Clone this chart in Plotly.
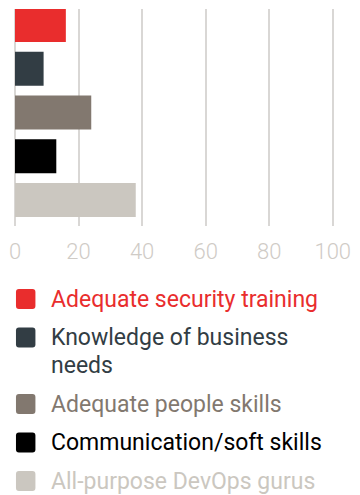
import plotly.graph_objects as go

# Survey results: share of respondents (%) per skill gap
categories = [
    "Adequate security training",
    "Knowledge of business needs",
    "Adequate people skills",
    "Communication/soft skills",
    "All-purpose DevOps gurus",
]
values = [16, 9, 24, 13, 38]
colors = ["#e92d2d", "#323d44", "#82786f", "#000000", "#cbc7c0"]
legend_lines = [
    ["Adequate security training"],
    ["Knowledge of business", "needs"],
    ["Adequate people skills"],
    ["Communication/soft skills"],
    ["All-purpose DevOps gurus"],
]
tick_values = [0, 20, 40, 60, 80, 100]

W, H = 360, 495
ML, MR, MT, MB = 14, 18, 9, 269
PW, PH = W - ML - MR, H - MT - MB

fig = go.Figure(
    go.Bar(
        x=values,
        y=list(range(len(categories))),
        orientation="h",
        marker=dict(color=colors, line=dict(width=0)),
        width=0.78,
        hovertext=categories,
        showlegend=False,
    )
)


def px_x(x):
    return (x - ML) / PW


def px_y(y):
    return (H - MB - y) / PH


# Custom legend: rounded colour squares with labels coloured like the bars
shapes = []
annotations = []
row_y = 299
sq, r = 20, 3
line_h = 28
for lines, color in zip(legend_lines, colors):
    x0, x1 = 15, 15 + sq
    y0, y1 = row_y - sq / 2, row_y + sq / 2
    pts = (
        f"M {px_x(x0 + r)},{px_y(y0)} L {px_x(x1 - r)},{px_y(y0)} "
        f"Q {px_x(x1)},{px_y(y0)} {px_x(x1)},{px_y(y0 + r)} "
        f"L {px_x(x1)},{px_y(y1 - r)} "
        f"Q {px_x(x1)},{px_y(y1)} {px_x(x1 - r)},{px_y(y1)} "
        f"L {px_x(x0 + r)},{px_y(y1)} "
        f"Q {px_x(x0)},{px_y(y1)} {px_x(x0)},{px_y(y1 - r)} "
        f"L {px_x(x0)},{px_y(y0 + r)} "
        f"Q {px_x(x0)},{px_y(y0)} {px_x(x0 + r)},{px_y(y0)} Z"
    )
    shapes.append(
        dict(type="path", xref="paper", yref="paper", path=pts,
             fillcolor=color, line=dict(width=0))
    )
    for i, line in enumerate(lines):
        annotations.append(
            dict(
                xref="paper", yref="paper",
                x=px_x(50), y=px_y(row_y + i * line_h),
                xanchor="left", yanchor="middle",
                text=line, showarrow=False, align="left",
                font=dict(family="Roboto", size=23, color=color),
                borderpad=0,
            )
        )
    row_y += 38.5 + line_h * (len(lines) - 1)

fig.update_layout(
    width=W,
    height=H,
    margin=dict(l=ML, r=MR, t=MT, b=MB, pad=0),
    paper_bgcolor="white",
    plot_bgcolor="white",
    xaxis=dict(
        range=[0, 100.4],
        tickvals=tick_values,
        ticktext=[str(v) for v in tick_values],
        showgrid=True,
        gridcolor="#d9d7d5",
        gridwidth=2,
        zeroline=True,
        zerolinecolor="#d9d7d5",
        zerolinewidth=2,
        showline=False,
        ticks="",
        ticklabelstandoff=10,
        tickfont=dict(family="Roboto", size=22, color="#cfcbc6", weight=300),
        fixedrange=True,
    ),
    yaxis=dict(
        range=[4.594, -0.366],
        showticklabels=False,
        showgrid=False,
        zeroline=False,
        ticks="",
        fixedrange=True,
    ),
    shapes=shapes,
    annotations=annotations,
)

fig.write_html("out.html")
